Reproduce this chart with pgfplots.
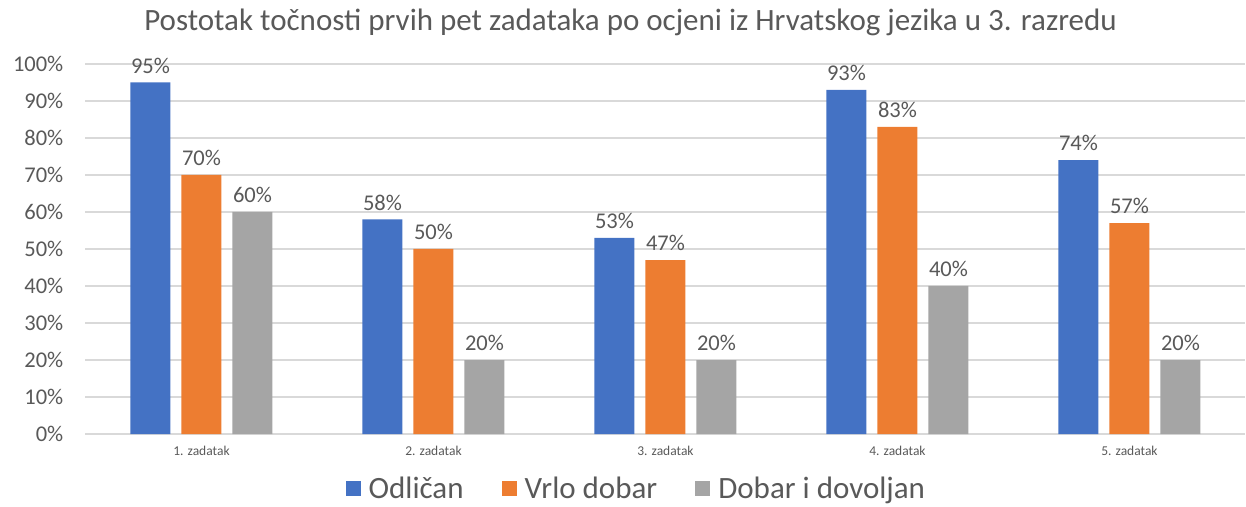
\documentclass[border=0pt]{standalone}
\usepackage{fontspec}
\setmainfont{Carlito}
\usepackage{pgfplots}
\pgfplotsset{compat=1.18}
\definecolor{cblue}{HTML}{4472C4}
\definecolor{corange}{HTML}{ED7D31}
\definecolor{cgray}{HTML}{A5A5A5}
\definecolor{ctext}{HTML}{595959}
\definecolor{cgrid}{HTML}{D9D9D9}
\begin{document}
\begin{tikzpicture}
\begin{axis}[
  at={(0,0)}, anchor=south west,
  scale only axis, width=1160bp, height=370bp,
  ybar=11bp, bar width=40bp,
  xmin=-0.5, xmax=4.5, ymin=0, ymax=100,
  xtick={0,1,2,3,4},
  xticklabels={1. zadatak,2. zadatak,3. zadatak,4. zadatak,5. zadatak},
  ytick={0,10,...,100},
  yticklabel={\pgfmathprintnumber{\tick}\%},
  /pgf/number format/assume math mode=true,
  major tick length=0pt,
  axis line style={draw=none},
  ymajorgrids, major grid style={draw=cgrid, line width=1.2bp},
  yticklabel style={font=\fontsize{22.5bp}{26bp}\selectfont, text=ctext, inner sep=0pt, anchor=east, xshift=-22bp},
  xticklabel style={font=\fontsize{13.5bp}{16bp}\selectfont, text=ctext, inner sep=0pt, anchor=north, yshift=-12bp},
  nodes near coords={\pgfmathprintnumber{\pgfplotspointmeta}\%},
  every node near coord/.append style={font=\fontsize{22.5bp}{26bp}\selectfont, text=ctext, anchor=south, inner sep=0pt, yshift=9bp},
  legend columns=-1,
  legend style={at={(0.474,-0.148)}, anchor=center, draw=none, fill=none,
    font=\fontsize{31bp}{33bp}\selectfont, text=ctext,
    nodes={inner sep=0pt},
    /tikz/every odd column/.append style={column sep=8bp},
    /tikz/every even column/.append style={column sep=38bp}},
  legend image code/.code={\fill[#1] (0bp,-7.5bp) rectangle (15bp,7.5bp);},
]
\addplot[fill=cblue, draw=none] coordinates {(0,95) (1,58) (2,53) (3,93) (4,74)};
\addplot[fill=corange, draw=none] coordinates {(0,70) (1,50) (2,47) (3,83) (4,57)};
\addplot[fill=cgray, draw=none] coordinates {(0,60) (1,20) (2,20) (3,40) (4,20)};
\legend{Odličan,Vrlo dobar,Dobar i dovoljan}
\end{axis}
\node[text=ctext, font=\fontsize{31bp}{35bp}\selectfont, anchor=center] at (545bp,412bp) {Postotak točnosti prvih pet zadataka po ocjeni iz Hrvatskog jezika u 3. razredu};
\pgfresetboundingbox
\path (-85.5bp,-73bp) rectangle (1160.5bp,434bp);
\end{tikzpicture}
\end{document}
